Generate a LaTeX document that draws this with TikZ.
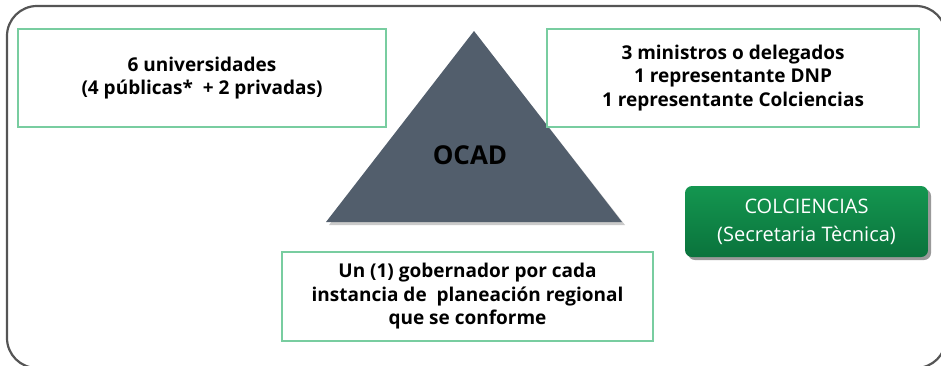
\documentclass[tikz,border=0pt]{standalone}
\usepackage{fontspec}
\setmainfont{Open Sans}
\usetikzlibrary{shadows,shapes.geometric}
\definecolor{frame}{RGB}{85,85,85}
\definecolor{boxline}{RGB}{120,205,160}
\definecolor{tri}{RGB}{82,94,108}
\definecolor{greenA}{RGB}{20,150,80}
\definecolor{greenB}{RGB}{10,115,60}
\tikzset{
  infobox/.style={draw=boxline, line width=1.5pt, fill=white, align=center, font=\bfseries\fontsize{19}{23.5}\selectfont},
}
\begin{document}
\begin{tikzpicture}[x=1pt,y=-1pt]
\useasboundingbox (0,0) rectangle (941,365);
\begin{scope}
\clip (0,0) rectangle (941,365);
\draw[frame, line width=2.2pt, rounded corners=30pt] (7,6) rectangle (946,368);
\end{scope}
% triangle
\fill[black!35, opacity=0.6] (329,225) -- (476,34) -- (625,225) -- cycle;
\fill[tri] (326,222) -- (474,31) -- (622,222) -- cycle;
\node (ocad) at (470,155) {\fontsize{26}{30}\selectfont\bfseries OCAD};
% boxes
\node[infobox, minimum width=368pt, minimum height=98pt, text depth=4pt] (uni) at (202,78) {6 universidades\\(4 públicas*\ \ + 2 privadas)};
\node[infobox, minimum width=372pt, minimum height=98pt] (min) at (733,78) {3 ministros o delegados\\1 representante DNP\\1 representante Colciencias};
\node[infobox, minimum width=371pt, minimum height=89pt] (gob) at (467.5,296.5) {Un (1) gobernador por cada\\instancia de\ \ planeación regional\\que se conforme};
% green box
\fill[black!40, rounded corners=7pt] (688,189) rectangle (931,260);
\shade[top color=greenA, bottom color=greenB, rounded corners=7pt] (685,186) rectangle (928,257);
\node[text=white, align=center, font=\fontsize{20}{28}\selectfont] (col) at (806.5,221.5) {COLCIENCIAS\\(Secretaria Tècnica)};
\end{tikzpicture}
\end{document}
